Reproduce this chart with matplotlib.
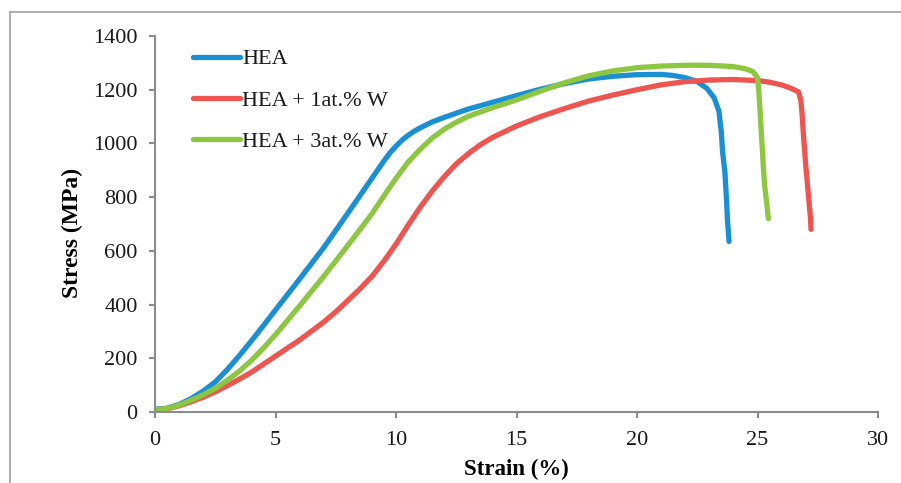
import matplotlib
matplotlib.use("Agg")
import matplotlib.pyplot as plt
from matplotlib.lines import Line2D

plt.rcParams['font.family'] = ['Liberation Serif', 'DejaVu Serif']

# ---- data ----
hea_strain = [0, 0.5, 1, 1.5, 2, 2.5, 3, 3.5, 4, 4.5, 5, 6, 7, 8, 8.5, 9, 9.5, 9.75, 10, 10.25,
              10.5, 10.75, 11, 11.5, 12, 13, 14, 15, 16, 17, 18, 19, 20, 21, 21.5, 22, 22.5,
              22.9, 23.2, 23.4, 23.5, 23.55, 23.65, 23.72, 23.75, 23.82]
hea_stress = [10, 14, 28, 50, 78, 112, 158, 210, 265, 322, 380, 495, 612, 740, 805, 870, 935,
              965, 990, 1012, 1030, 1045, 1058, 1080, 1097, 1128, 1153, 1178, 1202, 1223, 1240,
              1250, 1256, 1257, 1253, 1245, 1230, 1205, 1170, 1120, 1040, 970, 890, 780, 720,
              635]

w1_strain = [0, 0.5, 1, 1.5, 2, 2.5, 3, 3.5, 4, 4.5, 5, 6, 7, 7.5, 8, 8.5, 9, 9.5, 10, 10.5,
             11, 11.5, 12, 12.5, 13, 13.5, 14, 15, 16, 17, 18, 19, 20, 21, 22, 23, 24, 25, 25.5,
             26, 26.4, 26.7, 26.8, 26.85, 26.9, 26.95, 27.0, 27.05, 27.1, 27.15, 27.2, 27.22]
w1_stress = [8, 12, 23, 38, 55, 75, 98, 122, 148, 178, 208, 268, 335, 373, 415, 458, 505, 562,
             625, 695, 762, 822, 876, 924, 962, 995, 1022, 1065, 1100, 1130, 1158, 1180, 1200,
             1218, 1230, 1236, 1238, 1234, 1228, 1218, 1205, 1192, 1160, 1110, 1040, 980, 920,
             870, 820, 770, 720, 680]

w3_strain = [0, 0.5, 1, 1.5, 2, 2.5, 3, 3.5, 4, 4.5, 5, 6, 7, 8, 9, 9.5, 10, 10.5, 11, 11.5,
             12, 12.5, 13, 14, 15, 16, 17, 18, 19, 20, 21, 22, 23, 24, 24.5, 24.8, 25.0, 25.05,
             25.1, 25.15, 25.2, 25.25, 25.3, 25.38, 25.45]
w3_stress = [8, 13, 26, 44, 64, 88, 118, 152, 192, 238, 288, 395, 505, 620, 738, 805, 870, 930,
             978, 1020, 1053, 1079, 1101, 1133, 1162, 1195, 1226, 1252, 1270, 1282, 1288, 1291,
             1291, 1286, 1278, 1268, 1245, 1200, 1130, 1050, 980, 900, 840, 780, 720]

labels = ["HEA", "HEA + 1at.% W", "HEA + 3at.% W"]
colors = ["#1A8FD3", "#EE5550", "#8DC640"]

x_ticks = [0, 5, 10, 15, 20, 25, 30]
y_ticks = [0, 200, 400, 600, 800, 1000, 1200, 1400]

# ---- figure ----
W, H = 901, 483
fig = plt.figure(figsize=(W / 100, H / 100), dpi=100)
ax = fig.add_axes([155 / W, 1 - 412 / H, (878 - 155) / W, (412 - 36) / H])

for xs, ys, lab, c in zip([hea_strain, w1_strain, w3_strain],
                          [hea_stress, w1_stress, w3_stress], labels, colors):
    ax.plot(xs, ys, color=c, lw=3.8, label=lab, solid_capstyle='round',
            solid_joinstyle='round')

ax.set_xlim(0, 30)
ax.set_ylim(0, 1400)
ax.set_xticks(x_ticks)
ax.set_yticks(y_ticks)

for s in ['top', 'right']:
    ax.spines[s].set_visible(False)
for s in ['left', 'bottom']:
    ax.spines[s].set_color('#8c8c8c')
    ax.spines[s].set_linewidth(1.5)

ax.tick_params(axis='both', direction='out', length=4.5, width=1.5, color='#8c8c8c',
               labelsize=16, labelcolor='#1a1a1a')
ax.tick_params(axis='y', pad=8)
ax.tick_params(axis='x', pad=9)

ax.set_xlabel("Strain (%)", fontsize=16.5, fontweight='bold', va='top')
ax.xaxis.set_label_coords(0.5, (412 - 459) / 376)
ax.set_ylabel("Stress (MPa)", fontsize=17, fontweight='bold')
ax.yaxis.set_label_coords((83 - 155) / 723, (412 - 233) / 376)

leg = ax.legend(loc='upper left', bbox_to_anchor=(38 / 723, 0.966), frameon=False,
                fontsize=16, handlelength=2.12, handletextpad=0.1, labelspacing=0.94,
                borderpad=0, borderaxespad=0)
for t in leg.get_texts():
    t.set_color('#1a1a1a')

# figure frame lines (top and left)
fig.add_artist(Line2D([10 / W, 1], [1 - 12 / H, 1 - 12 / H], transform=fig.transFigure,
                      color='#a8a8a8', lw=1.3))
fig.add_artist(Line2D([10 / W, 10 / W], [0, 1 - 12 / H], transform=fig.transFigure,
                      color='#a8a8a8', lw=1.3))

fig.savefig("out.png", dpi=100)
